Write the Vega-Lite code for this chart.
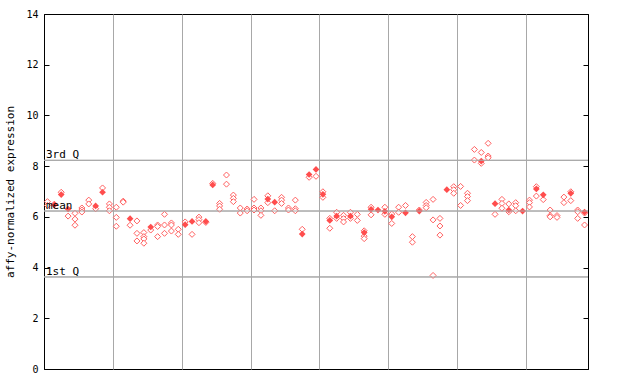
{
  "$schema": "https://vega.github.io/schema/vega-lite/v6.json",
  "width": 544,
  "height": 355,
  "autosize": {"type": "none"},
  "padding": {"left": 44, "top": 14, "right": 52, "bottom": 15},
  "background": "white",
  "config": {
    "view": {"stroke": "#000", "strokeWidth": 1},
    "font": "DejaVu Sans Mono",
    "axis": {"labelFont": "DejaVu Sans Mono", "titleFont": "DejaVu Sans Mono"}
  },
  "datasets": {
    "pts": [
      {"s":0,"v":6.6,"t":"r"},{"s":0,"v":6.45,"t":"r"},
      {"s":1,"v":6.47,"t":"m"},{"s":1,"v":6.5,"t":"r"},
      {"s":2,"v":6.88,"t":"m"},{"s":2,"v":6.97,"t":"r"},
      {"s":3,"v":6.31,"t":"m"},{"s":3,"v":6.03,"t":"r"},
      {"s":4,"v":6.14,"t":"r"},{"s":4,"v":5.91,"t":"r"},{"s":4,"v":5.67,"t":"r"},
      {"s":5,"v":6.35,"t":"r"},{"s":5,"v":6.27,"t":"r"},{"s":5,"v":6.19,"t":"r"},
      {"s":6,"v":6.66,"t":"r"},{"s":6,"v":6.51,"t":"r"},
      {"s":7,"v":6.43,"t":"m"},{"s":7,"v":6.32,"t":"r"},
      {"s":8,"v":7.14,"t":"r"},{"s":8,"v":6.97,"t":"m"},
      {"s":9,"v":6.51,"t":"r"},{"s":9,"v":6.38,"t":"r"},{"s":9,"v":6.24,"t":"r"},
      {"s":10,"v":6.38,"t":"r"},{"s":10,"v":5.98,"t":"r"},{"s":10,"v":5.63,"t":"r"},
      {"s":11,"v":6.62,"t":"r"},{"s":11,"v":6.58,"t":"r"},
      {"s":12,"v":5.93,"t":"m"},{"s":12,"v":5.67,"t":"r"},
      {"s":13,"v":5.84,"t":"r"},{"s":13,"v":5.35,"t":"r"},{"s":13,"v":5.05,"t":"r"},
      {"s":14,"v":5.38,"t":"r"},{"s":14,"v":5.22,"t":"r"},{"s":14,"v":5.13,"t":"r"},{"s":14,"v":4.96,"t":"r"},
      {"s":15,"v":5.6,"t":"m"},{"s":15,"v":5.48,"t":"r"},
      {"s":16,"v":5.68,"t":"r"},{"s":16,"v":5.62,"t":"r"},{"s":16,"v":5.22,"t":"r"},
      {"s":17,"v":6.1,"t":"r"},{"s":17,"v":5.68,"t":"r"},{"s":17,"v":5.35,"t":"r"},
      {"s":18,"v":5.76,"t":"r"},{"s":18,"v":5.68,"t":"r"},{"s":18,"v":5.44,"t":"r"},
      {"s":19,"v":5.51,"t":"r"},{"s":19,"v":5.31,"t":"r"},
      {"s":20,"v":5.69,"t":"m"},{"s":20,"v":5.8,"t":"r"},
      {"s":21,"v":5.82,"t":"m"},{"s":21,"v":5.31,"t":"r"},
      {"s":22,"v":5.99,"t":"r"},{"s":22,"v":5.89,"t":"r"},{"s":22,"v":5.77,"t":"r"},
      {"s":23,"v":5.82,"t":"m"},{"s":23,"v":5.78,"t":"r"},
      {"s":24,"v":7.32,"t":"r"},{"s":24,"v":7.26,"t":"m"},
      {"s":25,"v":6.53,"t":"r"},{"s":25,"v":6.43,"t":"r"},{"s":25,"v":6.3,"t":"r"},
      {"s":26,"v":7.65,"t":"r"},{"s":26,"v":7.29,"t":"r"},
      {"s":27,"v":6.86,"t":"r"},{"s":27,"v":6.73,"t":"r"},{"s":27,"v":6.6,"t":"r"},
      {"s":28,"v":6.35,"t":"r"},{"s":28,"v":6.15,"t":"r"},
      {"s":29,"v":6.31,"t":"r"},{"s":29,"v":6.24,"t":"r"},
      {"s":30,"v":6.69,"t":"r"},{"s":30,"v":6.35,"t":"r"},{"s":30,"v":6.27,"t":"r"},
      {"s":31,"v":6.35,"t":"r"},{"s":31,"v":6.24,"t":"r"},{"s":31,"v":6.06,"t":"r"},
      {"s":32,"v":6.83,"t":"r"},{"s":32,"v":6.7,"t":"m"},{"s":32,"v":6.56,"t":"r"},
      {"s":33,"v":6.58,"t":"m"},{"s":33,"v":6.24,"t":"r"},
      {"s":34,"v":6.77,"t":"r"},{"s":34,"v":6.66,"t":"r"},{"s":34,"v":6.53,"t":"r"},
      {"s":35,"v":6.35,"t":"r"},{"s":35,"v":6.27,"t":"r"},
      {"s":36,"v":6.66,"t":"r"},{"s":36,"v":6.32,"t":"r"},{"s":36,"v":6.24,"t":"r"},
      {"s":37,"v":5.51,"t":"r"},{"s":37,"v":5.32,"t":"m"},
      {"s":38,"v":7.67,"t":"m"},{"s":38,"v":7.56,"t":"r"},
      {"s":39,"v":7.87,"t":"m"},{"s":39,"v":7.6,"t":"r"},
      {"s":40,"v":6.99,"t":"r"},{"s":40,"v":6.89,"t":"m"},{"s":40,"v":6.77,"t":"r"},
      {"s":41,"v":5.94,"t":"r"},{"s":41,"v":5.86,"t":"m"},{"s":41,"v":5.55,"t":"r"},
      {"s":42,"v":6.18,"t":"r"},{"s":42,"v":6.03,"t":"m"},{"s":42,"v":5.94,"t":"r"},
      {"s":43,"v":6.06,"t":"r"},{"s":43,"v":5.93,"t":"r"},{"s":43,"v":5.8,"t":"r"},
      {"s":44,"v":6.18,"t":"r"},{"s":44,"v":6.03,"t":"m"},{"s":44,"v":5.94,"t":"r"},
      {"s":45,"v":6.1,"t":"r"},{"s":45,"v":5.86,"t":"r"},
      {"s":46,"v":5.45,"t":"r"},{"s":46,"v":5.38,"t":"m"},{"s":46,"v":5.24,"t":"r"},{"s":46,"v":5.14,"t":"r"},
      {"s":47,"v":6.38,"t":"r"},{"s":47,"v":6.3,"t":"m"},{"s":47,"v":6.08,"t":"r"},
      {"s":48,"v":6.27,"t":"m"},
      {"s":49,"v":6.38,"t":"r"},{"s":49,"v":6.22,"t":"m"},{"s":49,"v":6.1,"t":"r"},
      {"s":50,"v":6.11,"t":"r"},{"s":50,"v":6.0,"t":"m"},{"s":50,"v":5.74,"t":"r"},
      {"s":51,"v":6.38,"t":"r"},{"s":51,"v":6.18,"t":"r"},
      {"s":52,"v":6.45,"t":"r"},{"s":52,"v":6.16,"t":"m"},
      {"s":53,"v":5.22,"t":"r"},{"s":53,"v":5.0,"t":"r"},
      {"s":54,"v":6.27,"t":"r"},{"s":54,"v":6.23,"t":"m"},
      {"s":55,"v":6.57,"t":"r"},{"s":55,"v":6.45,"t":"r"},{"s":55,"v":6.36,"t":"r"},
      {"s":56,"v":6.69,"t":"r"},{"s":56,"v":5.88,"t":"r"},{"s":56,"v":3.69,"t":"r"},
      {"s":57,"v":5.94,"t":"r"},{"s":57,"v":5.64,"t":"r"},{"s":57,"v":5.28,"t":"r"},
      {"s":58,"v":7.07,"t":"m"},
      {"s":59,"v":7.19,"t":"r"},{"s":59,"v":7.07,"t":"r"},{"s":59,"v":6.93,"t":"r"},
      {"s":60,"v":7.2,"t":"r"},{"s":60,"v":6.45,"t":"r"},
      {"s":61,"v":6.93,"t":"r"},{"s":61,"v":6.8,"t":"r"},{"s":61,"v":6.64,"t":"r"},
      {"s":62,"v":8.66,"t":"r"},{"s":62,"v":8.24,"t":"r"},
      {"s":63,"v":8.54,"t":"r"},{"s":63,"v":8.2,"t":"m"},{"s":63,"v":8.11,"t":"r"},
      {"s":64,"v":8.9,"t":"r"},{"s":64,"v":8.4,"t":"r"},{"s":64,"v":8.33,"t":"r"},
      {"s":65,"v":6.52,"t":"m"},{"s":65,"v":6.1,"t":"r"},
      {"s":66,"v":6.69,"t":"r"},{"s":66,"v":6.53,"t":"r"},{"s":66,"v":6.34,"t":"r"},
      {"s":67,"v":6.51,"t":"r"},{"s":67,"v":6.27,"t":"m"},{"s":67,"v":6.2,"t":"r"},
      {"s":68,"v":6.56,"t":"r"},{"s":68,"v":6.44,"t":"r"},{"s":68,"v":6.24,"t":"r"},
      {"s":69,"v":6.23,"t":"m"},
      {"s":70,"v":6.66,"t":"r"},{"s":70,"v":6.56,"t":"r"},{"s":70,"v":6.39,"t":"r"},
      {"s":71,"v":7.19,"t":"r"},{"s":71,"v":7.1,"t":"m"},{"s":71,"v":6.82,"t":"r"},
      {"s":72,"v":6.87,"t":"m"},{"s":72,"v":6.68,"t":"r"},
      {"s":73,"v":6.27,"t":"r"},{"s":73,"v":6.05,"t":"r"},{"s":73,"v":6.0,"t":"r"},
      {"s":74,"v":6.05,"t":"r"},{"s":74,"v":5.98,"t":"r"},
      {"s":75,"v":6.78,"t":"r"},{"s":75,"v":6.56,"t":"r"},
      {"s":76,"v":6.99,"t":"r"},{"s":76,"v":6.93,"t":"m"},{"s":76,"v":6.64,"t":"r"},
      {"s":77,"v":6.27,"t":"r"},{"s":77,"v":6.2,"t":"r"},{"s":77,"v":5.94,"t":"r"},
      {"s":78,"v":6.19,"t":"m"},{"s":78,"v":6.15,"t":"r"},{"s":78,"v":5.68,"t":"r"}
    ],
    "quart": [
      {"q":8.23,"label":"3rd Q"},
      {"q":6.23,"label":"mean"},
      {"q":3.63,"label":"1st Q"}
    ]
  },
  "layer": [
    {
      "layer": [
        {
          "data": {"name": "quart"},
          "mark": {"type": "rule", "color": "#a8a8a8", "strokeWidth": 1},
          "encoding": {
            "y": {"field": "q", "type": "quantitative", "title": "affy-normalized expression", "scale": {"domain": [0, 14], "nice": false}}
          }
        },
        {
          "data": {"name": "pts"},
          "transform": [{"filter": "datum.t == 'r'"}],
          "mark": {"type": "point", "shape": "diamond", "filled": false, "fill": "white", "fillOpacity": 1, "stroke": "#ff6060", "strokeWidth": 1, "size": 36, "opacity": 1},
          "encoding": {
            "x": {"field": "s", "type": "quantitative", "title": null, "scale": {"domain": [-0.5, 78.5], "nice": false, "zero": false},
              "axis": {"values": [9.5,19.5,29.5,39.5,49.5,59.5,69.5], "labels": false, "ticks": false, "domain": false, "grid": true, "gridColor": "#a8a8a8", "gridWidth": 1, "gridOpacity": 1, "title": null}},
            "y": {"field": "v", "type": "quantitative", "title": "affy-normalized expression", "scale": {"domain": [0, 14], "nice": false},
              "axis": {"orient": "left", "values": [0,2,4,6,8,10,12,14], "grid": false, "tickSize": -5, "tickColor": "#000", "domainColor": "#000", "labelFontSize": 10, "labelColor": "#000", "labelPadding": 11, "titleFontSize": 11, "titleFontWeight": "normal", "titleColor": "#000", "titlePadding": 10}}
          }
        },
        {
          "data": {"name": "pts"},
          "transform": [{"filter": "datum.t == 'm'"}],
          "mark": {"type": "point", "shape": "diamond", "filled": true, "color": "#ff4d4d", "size": 45, "opacity": 1},
          "encoding": {
            "x": {"field": "s", "type": "quantitative", "title": null},
            "y": {"field": "v", "type": "quantitative", "title": "affy-normalized expression"}
          }
        },
        {
          "data": {"name": "quart"},
          "mark": {"type": "text", "align": "left", "baseline": "alphabetic", "dx": 2, "dy": -2, "fontSize": 11, "font": "DejaVu Sans Mono", "color": "#000"},
          "encoding": {
            "x": {"datum": -0.5, "type": "quantitative", "title": null},
            "y": {"field": "q", "type": "quantitative", "title": "affy-normalized expression"},
            "text": {"field": "label"}
          }
        }
      ]
    },
    {
      "data": {"name": "quart"},
      "mark": {"type": "rule", "color": "#a8a8a8", "strokeWidth": 1},
      "encoding": {
        "y": {"field": "q", "type": "quantitative", "scale": {"domain": [0, 14], "nice": false},
          "axis": {"orient": "right", "values": [0,2,4,6,8,10,12,14], "labels": false, "tickSize": -5, "tickColor": "#000", "domainColor": "#000", "grid": false, "title": null}}
      }
    }
  ],
  "resolve": {"axis": {"y": "independent"}}
}
